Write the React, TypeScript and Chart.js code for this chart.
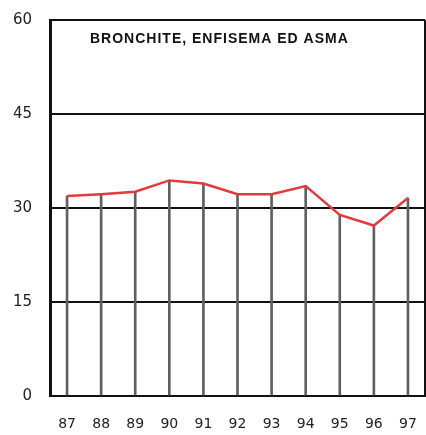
import React, { useEffect, useRef } from "react";
import { Chart, registerables } from "chart.js";

Chart.register(...registerables);

const years = ["87", "88", "89", "90", "91", "92", "93", "94", "95", "96", "97"];
const values = [31.9, 32.2, 32.6, 34.4, 33.9, 32.2, 32.2, 33.5, 28.9, 27.2, 31.6];
const yTicks = [0, 15, 30, 45, 60];
const chartTitle = "BRONCHITE, ENFISEMA ED ASMA";

const framePlugin = {
  id: "framePlugin",
  afterDatasetsDraw(chart: any) {
    const { ctx, chartArea } = chart;
    ctx.save();
    ctx.strokeStyle = "#111";
    ctx.lineWidth = 2;
    ctx.beginPath();
    ctx.moveTo(chartArea.right, chartArea.top);
    ctx.lineTo(chartArea.right, chartArea.bottom);
    ctx.stroke();
    ctx.fillStyle = "#111";
    ctx.font = "bold 14px 'Liberation Sans', Arial, sans-serif";
    try {
      (ctx as any).letterSpacing = "1px";
    } catch (e) {}
    ctx.textBaseline = "middle";
    ctx.textAlign = "left";
    ctx.fillText(chartTitle, chartArea.left + 40, chartArea.top + 19);
    ctx.restore();
  },
};

export default function App() {
  const ref = useRef<HTMLCanvasElement | null>(null);
  useEffect(() => {
    if (!ref.current) return;
    const chart = new Chart(ref.current, {
      type: "bar",
      data: {
        labels: years,
        datasets: [
          {
            type: "line",
            data: values,
            borderColor: "#e23a3f",
            borderWidth: 2.5,
            pointRadius: 0,
            tension: 0,
            order: 0,
          } as any,
          {
            type: "bar",
            data: values,
            backgroundColor: "#606060",
            barThickness: 2,
            order: 1,
          },
        ],
      },
      options: {
        animation: false,
        responsive: true,
        maintainAspectRatio: false,
        layout: { padding: { top: 20, right: 1, left: 0, bottom: 0 } },
        plugins: {
          legend: { display: false },
          tooltip: { enabled: false },
          title: { display: false },
        },
        scales: {
          x: {
            type: "category",
            offset: true,
            grid: { display: false },
            border: { display: true, color: "#111", width: 2 },
            ticks: {
              color: "#222",
              font: { family: "'DejaVu Sans', sans-serif", size: 14 },
              padding: 12,
              maxRotation: 0,
              autoSkip: false,
            },
            afterFit(scale: any) {
              scale.height = 39;
              scale.paddingLeft = 0;
              scale.paddingRight = 0;
            },
          },
          y: {
            min: 0,
            max: 60,
            afterBuildTicks(scale: any) {
              scale.ticks = yTicks.map((v) => ({ value: v }));
            },
            grid: {
              color: "#111",
              lineWidth: 2,
              drawTicks: false,
            },
            border: { display: true, color: "#111", width: 3 },
            ticks: {
              color: "#222",
              font: { family: "'DejaVu Sans', sans-serif", size: 15 },
              padding: 18,
            },
            afterFit(scale: any) {
              scale.width = 50;
              scale.paddingTop = 0;
              scale.paddingBottom = 0;
            },
          },
        },
      },
      plugins: [framePlugin],
    });
    return () => chart.destroy();
  }, []);
  return (
    <div style={{ position: "fixed", left: 0, top: 0, width: 426, height: 435, background: "#fff" }}>
      <canvas ref={ref} />
    </div>
  );
}
